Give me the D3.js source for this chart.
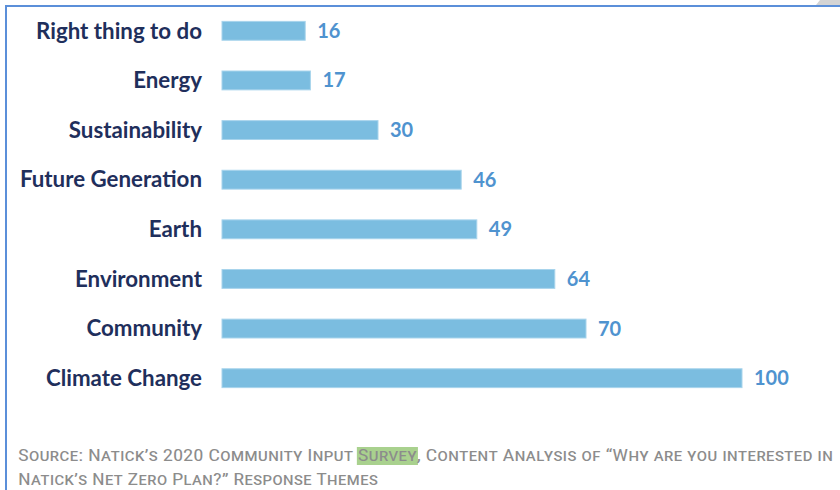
<!DOCTYPE html>
<html><head><meta charset="utf-8">
<script src="https://cdn.jsdelivr.net/npm/d3@7"></script>
<style>body{margin:0;background:#fff}svg{display:block}</style>
</head><body>
<svg id="c" width="840" height="490"></svg>
<script>
const categories = ["Right thing to do","Energy","Sustainability","Future Generation","Earth","Environment","Community","Climate Change"];
const values = [16,17,30,46,49,64,70,100];
const sourceLine1 = ["Source: Natick’s 2020 Community Input ","Survey",", Content Analysis of “Why are you interested in"];
const sourceLine2 = "Natick’s Net Zero Plan?” Response Themes";

const svg = d3.select("#c");
// frame
svg.append("path").attr("d","M6,490 L6,6 L840,6").attr("fill","none").attr("stroke","#5b8fd9").attr("stroke-width",2);
svg.append("path").attr("d","M820,0 L840,0 L840,5 L816,5 Z").attr("fill","#d4d4d4");

const x = d3.scaleLinear().domain([0,100]).range([222,742]);
const y = d3.scaleBand().domain(categories).range([6,403]).paddingInner(0.62).paddingOuter(0.31);

const hl = svg.append("g");
const g = svg.append("g");
g.selectAll("rect").data(categories).join("rect")
  .attr("x",x(0)).attr("y",d=>y(d)).attr("height",y.bandwidth())
  .attr("width",(d,i)=>x(values[i])-x(0))
  .attr("fill","#7bbde0").attr("stroke","#a8d4ec").attr("stroke-width",1);

g.selectAll("text.cat").data(categories).join("text").attr("class","cat")
  .attr("x",202).attr("y",d=>y(d)+y.bandwidth()/2).attr("dy","0.35em")
  .attr("text-anchor","end").attr("font-family","Lato, 'Open Sans', sans-serif")
  .attr("font-weight","bold").attr("font-size",22.3).attr("fill","#1f2f5c").text(d=>d);

g.selectAll("text.val").data(categories).join("text").attr("class","val")
  .attr("x",(d,i)=>x(values[i])+12).attr("y",d=>y(d)+y.bandwidth()/2).attr("dy","0.35em")
  .attr("font-family","Lato, 'Open Sans', sans-serif")
  .attr("font-weight","bold").attr("font-size",20).attr("fill","#4f93cf").text((d,i)=>values[i]);

// source
const t1 = svg.append("text").attr("x",18).attr("y",461)
  .attr("font-family","'Liberation Sans Narrow','Roboto Condensed','Open Sans',sans-serif")
  .attr("font-size",17).attr("fill","#8c8c8c").style("font-variant","small-caps")
  .attr("textLength",815).attr("lengthAdjust","spacingAndGlyphs");
sourceLine1.forEach(s=>t1.append("tspan").text(s));
const spans = t1.selectAll("tspan").nodes();
const bb = spans[1].getBBox();
hl.append("rect").attr("x",bb.x-1).attr("y",bb.y+2).attr("width",bb.width+2).attr("height",bb.height-2).attr("fill","#a9d18e");
svg.append("text").attr("x",18).attr("y",485)
  .attr("font-family","'Liberation Sans Narrow','Roboto Condensed','Open Sans',sans-serif")
  .attr("font-size",17).attr("fill","#8c8c8c").style("font-variant","small-caps")
  .attr("textLength",360).attr("lengthAdjust","spacingAndGlyphs").text(sourceLine2);
</script>
</body></html>
